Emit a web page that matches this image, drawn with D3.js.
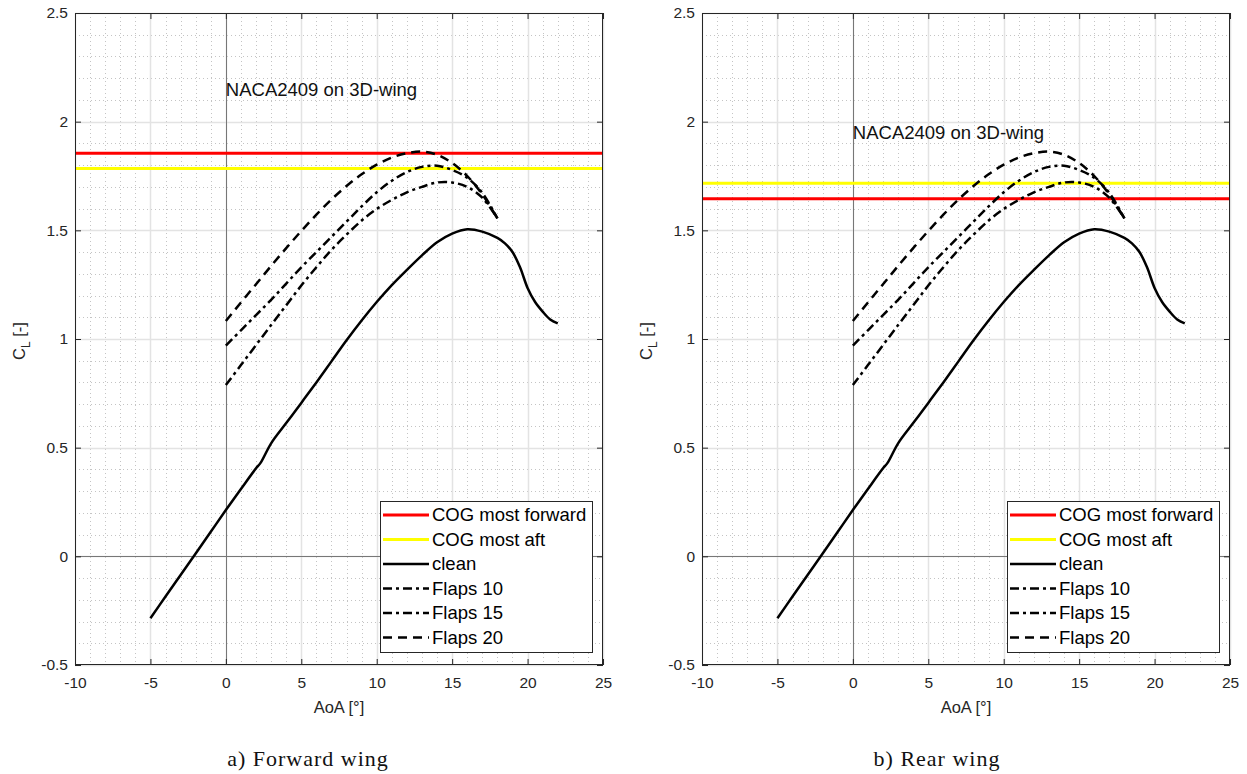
<!DOCTYPE html>
<html>
<head>
<meta charset="utf-8">
<script src="https://cdn.jsdelivr.net/npm/d3@7"></script>
<style>
  body { margin: 0; background: #fff; }
  svg { display: block; font-family: "Liberation Sans", Arial, sans-serif; }
</style>
</head>
<body>
<svg width="1247" height="774"></svg>
<script>
// clean wing
const aoaClean = [-5, -4, -3, -2, -1, 0, 1, 2, 2.3, 3, 4, 5, 6, 7, 8, 9, 10, 11, 12, 13, 14, 15, 16, 17, 18, 18.5, 19, 19.5, 20, 20.5, 21, 21.5, 22];
const clClean = [-0.285, -0.185, -0.086, 0.013, 0.113, 0.213, 0.31, 0.405, 0.43, 0.52, 0.613, 0.706, 0.80, 0.897, 0.994, 1.085, 1.17, 1.248, 1.318, 1.385, 1.445, 1.485, 1.505, 1.494, 1.465, 1.44, 1.40, 1.33, 1.235, 1.17, 1.126, 1.09, 1.072];

// flapped wing
const aoaFlaps = [0, 1, 2, 3, 4, 5, 6, 7, 8, 9, 10, 11, 12, 13, 14, 15, 16, 17, 18];
const clFlaps10 = [0.788, 0.88, 0.972, 1.064, 1.155, 1.246, 1.33, 1.41, 1.48, 1.545, 1.598, 1.64, 1.675, 1.70, 1.72, 1.72, 1.70, 1.65, 1.555];
const clFlaps15 = [0.97, 1.04, 1.11, 1.18, 1.255, 1.33, 1.40, 1.47, 1.54, 1.61, 1.675, 1.728, 1.768, 1.792, 1.797, 1.778, 1.742, 1.672, 1.555];
const clFlaps20 = [1.083, 1.168, 1.252, 1.336, 1.418, 1.497, 1.572, 1.642, 1.704, 1.758, 1.802, 1.835, 1.855, 1.862, 1.848, 1.81, 1.75, 1.665, 1.555];

// panels: forward wing, rear wing
const panelCaptions = ["a) Forward wing", "b) Rear wing"];
const cogForward = [1.855, 1.645];
const cogAft = [1.785, 1.717];
const noteY = [2.15, 1.95];
const noteText = "NACA2409 on 3D-wing";

const legendLabels = ["COG most forward", "COG most aft", "clean", "Flaps 10", "Flaps 15", "Flaps 20"];
const xTicks = [-10, -5, 0, 5, 10, 15, 20, 25];
const yTicks = [-0.5, 0, 0.5, 1, 1.5, 2, 2.5];

const svg = d3.select("svg");
svg.append("rect").attr("width", 1247).attr("height", 774).attr("fill", "#fff");

const panelLeft = [75, 702];
const pw = 528, plotTop = 13, plotBottom = 665;
const axisCol = "#262626";

const series = [
  { x: aoaClean, y: clClean, dash: null },
  { x: aoaFlaps, y: clFlaps10, dash: "9,4,3,4" },
  { x: aoaFlaps, y: clFlaps15, dash: "9,4,3,4" },
  { x: aoaFlaps, y: clFlaps20, dash: "9,6" }
];

const fmt = d => String(d);

function drawPanel(i) {
  const x0 = panelLeft[i];
  const x = d3.scaleLinear().domain([-10, 25]).range([x0, x0 + pw]);
  const y = d3.scaleLinear().domain([-0.5, 2.5]).range([plotBottom, plotTop]);
  const g = svg.append("g");

  g.append("clipPath").attr("id", "clip" + i)
    .append("rect").attr("x", x0).attr("y", plotTop).attr("width", pw).attr("height", plotBottom - plotTop);

  // minor grid
  const minorX = d3.range(-10, 26, 1).filter(v => v % 5 !== 0);
  const minorY = d3.range(-5, 26, 1).map(v => v / 10).filter(v => Math.round(v * 10) % 5 !== 0);
  g.selectAll(".mx").data(minorX).enter().append("line")
    .attr("x1", d => Math.round(x(d)) + 0.5).attr("x2", d => Math.round(x(d)) + 0.5)
    .attr("y1", plotTop).attr("y2", plotBottom)
    .attr("stroke", "#c4c4c4").attr("stroke-width", 1).attr("stroke-dasharray", "1,3");
  g.selectAll(".my").data(minorY).enter().append("line")
    .attr("y1", d => Math.round(y(d)) + 0.5).attr("y2", d => Math.round(y(d)) + 0.5)
    .attr("x1", x0).attr("x2", x0 + pw)
    .attr("stroke", "#c4c4c4").attr("stroke-width", 1).attr("stroke-dasharray", "1,3");

  // major grid
  g.selectAll(".gx").data(xTicks).enter().append("line")
    .attr("x1", d => Math.round(x(d)) + 0.5).attr("x2", d => Math.round(x(d)) + 0.5)
    .attr("y1", plotTop).attr("y2", plotBottom)
    .attr("stroke", "#e3e3e3").attr("stroke-width", 1.5);
  g.selectAll(".gy").data(yTicks).enter().append("line")
    .attr("y1", d => Math.round(y(d)) + 0.5).attr("y2", d => Math.round(y(d)) + 0.5)
    .attr("x1", x0).attr("x2", x0 + pw)
    .attr("stroke", "#e3e3e3").attr("stroke-width", 1.5);

  // zero lines
  g.append("line").attr("x1", Math.round(x(0)) + 0.5).attr("x2", Math.round(x(0)) + 0.5)
    .attr("y1", plotTop).attr("y2", plotBottom).attr("stroke", "#777").attr("stroke-width", 1);
  g.append("line").attr("y1", Math.round(y(0)) + 0.5).attr("y2", Math.round(y(0)) + 0.5)
    .attr("x1", x0).attr("x2", x0 + pw).attr("stroke", "#777").attr("stroke-width", 1);

  const plot = g.append("g").attr("clip-path", `url(#clip${i})`);

  // COG limits
  plot.append("line").attr("x1", x0).attr("x2", x0 + pw)
    .attr("y1", y(cogForward[i])).attr("y2", y(cogForward[i]))
    .attr("stroke", "#ff0000").attr("stroke-width", 3);
  plot.append("line").attr("x1", x0).attr("x2", x0 + pw)
    .attr("y1", y(cogAft[i])).attr("y2", y(cogAft[i]))
    .attr("stroke", "#ffff00").attr("stroke-width", 3);

  const line = d3.line().curve(d3.curveCatmullRom.alpha(0.5))
    .x(d => x(d[0])).y(d => y(d[1]));
  series.forEach(s => {
    plot.append("path")
      .attr("d", line(d3.zip(s.x, s.y)))
      .attr("fill", "none").attr("stroke", "#000").attr("stroke-width", 2.5)
      .attr("stroke-dasharray", s.dash);
  });

  // annotation
  g.append("text").attr("x", x(0)).attr("y", y(noteY[i])).attr("dy", "0.35em")
    .attr("font-size", 18.5).attr("fill", "#111").text(noteText);

  // axes
  const xAxis = d3.axisBottom(x).tickValues(xTicks).tickSizeInner(-6).tickSizeOuter(0).tickPadding(12).tickFormat(fmt);
  const yAxis = d3.axisLeft(y).tickValues(yTicks).tickSizeInner(-6).tickSizeOuter(0).tickPadding(7).tickFormat(fmt);
  const xa = g.append("g").attr("transform", `translate(0,${plotBottom})`).call(xAxis);
  const ya = g.append("g").attr("transform", `translate(${x0},0)`).call(yAxis);
  const xt = g.append("g").attr("transform", `translate(0,${plotTop})`)
    .call(d3.axisTop(x).tickValues(xTicks).tickSizeInner(-6).tickSizeOuter(0).tickFormat(""));
  const yr = g.append("g").attr("transform", `translate(${x0 + pw},0)`)
    .call(d3.axisRight(y).tickValues(yTicks).tickSizeInner(-6).tickSizeOuter(0).tickFormat(""));
  [xa, ya, xt, yr].forEach(a => {
    a.select(".domain").remove();
    a.selectAll("line").attr("stroke", axisCol);
    a.selectAll("text").attr("fill", axisCol).attr("font-size", 15.5)
      .attr("font-family", "Liberation Sans, Arial, sans-serif");
  });

  g.append("rect").attr("x", x0 + 0.5).attr("y", plotTop + 0.5)
    .attr("width", pw - 1).attr("height", plotBottom - plotTop - 1)
    .attr("fill", "none").attr("stroke", axisCol).attr("stroke-width", 1);

  // axis labels
  g.append("text").attr("x", x0 + pw / 2).attr("y", 707).attr("dy", "0.35em")
    .attr("text-anchor", "middle").attr("font-size", 16.5).attr("fill", axisCol).text("AoA [°]");
  const yl = g.append("text").attr("transform", `translate(${x0 - 50},341) rotate(-90)`)
    .attr("text-anchor", "middle").attr("font-size", 16.5).attr("fill", axisCol);
  yl.append("tspan").text("C");
  yl.append("tspan").attr("dy", 5).attr("font-size", 12).text("L");
  yl.append("tspan").attr("dy", -5).text(" [-]");

  // legend
  const lx = x0 + 305, ly = 501, lw = 212, lh = 151, rowH = 24.5;
  const lg = g.append("g");
  lg.append("rect").attr("x", lx + 0.5).attr("y", ly + 0.5).attr("width", lw).attr("height", lh)
    .attr("fill", "#fff").attr("stroke", axisCol).attr("stroke-width", 1);
  const styles = [
    { c: "#ff0000", w: 3, dash: null },
    { c: "#ffff00", w: 3, dash: null },
    { c: "#000", w: 2.5, dash: null },
    { c: "#000", w: 2.5, dash: series[1].dash },
    { c: "#000", w: 2.5, dash: series[2].dash },
    { c: "#000", w: 2.5, dash: series[3].dash }
  ];
  legendLabels.forEach((lab, k) => {
    const cy = ly + 14 + k * rowH;
    lg.append("line").attr("x1", lx + 3).attr("x2", lx + 49).attr("y1", cy).attr("y2", cy)
      .attr("stroke", styles[k].c).attr("stroke-width", styles[k].w)
      .attr("stroke-dasharray", styles[k].dash);
    lg.append("text").attr("x", lx + 52).attr("y", cy).attr("dy", "0.35em")
      .attr("font-size", 18.5).attr("fill", "#000").text(lab);
  });

  // caption
  svg.append("text").attr("x", x0 + (i === 0 ? 233 : 235)).attr("y", 758).attr("dy", "0.35em")
    .attr("text-anchor", "middle").attr("font-family", "Liberation Serif, serif")
    .attr("font-size", 22).attr("letter-spacing", 1).attr("fill", "#111").text(panelCaptions[i]);
}

drawPanel(0);
drawPanel(1);
</script>
</body>
</html>
